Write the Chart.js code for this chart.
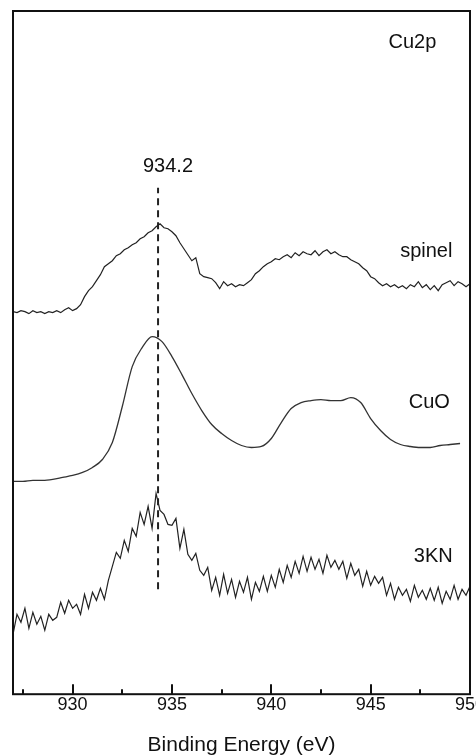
<!DOCTYPE html>
<html>
<head>
<meta charset="utf-8">
<script src="https://cdn.jsdelivr.net/npm/chart.js@4.4.1/dist/chart.umd.min.js"></script>
<style>
  html, body { margin: 0; padding: 0; background: #fff; overflow: hidden; width: 476px; height: 755px; }
  #wrap { position: absolute; left: 0; top: 0; width: 490px; height: 758px; }
</style>
</head>
<body>
<div id="wrap"><canvas id="c" width="490" height="758"></canvas></div>
<script>
// ---- data (binding energy in eV, intensity in arbitrary units, curves stacked with offsets) ----
const energyMin = 927, energyMax = 950;
const tickValues = [927.5, 930, 932.5, 935, 937.5, 940, 942.5, 945, 947.5, 950];
const tickLabels = ['', '930', '', '935', '', '940', '', '945', '', '950'];

// spinel: sampled every 0.2 eV from 927.0
const spinelStart = 927.0, spinelStep = 0.2;
const spinel = [
  383, 382, 384, 383, 381,
  384, 382, 383, 381, 383,
  382, 384, 382, 385, 387,
  384, 386, 390, 398, 404,
  408, 414, 420, 428, 431,
  434, 439, 441, 445, 447,
  450, 452, 456, 458, 462,
  464, 468, 471, 467, 466,
  463, 459, 452, 446, 440,
  434, 437, 421, 418, 417,
  416, 412, 406, 413, 409,
  411, 408, 410, 409, 412,
  415, 421, 424, 428, 431,
  433, 436, 435, 438, 440,
  437, 442, 439, 443, 441,
  440, 444, 439, 443, 445,
  441, 443, 440, 438, 438,
  435, 433, 431, 427, 424,
  418, 416, 412, 409, 411,
  408, 410, 407, 409, 406,
  410, 408, 413, 407, 410,
  405, 409, 404, 410, 412,
  414, 409, 413, 411, 408,
  411
];

// CuO: sampled every 0.5 eV from 927.0
const cuoStart = 927.0, cuoStep = 0.5;
const cuo = [
  213, 213, 214, 214, 215, 217, 219, 222, 227, 235,
  252, 288, 328, 347, 358, 353, 338, 320, 301, 284,
  270, 261, 254, 249, 247, 248, 256, 272, 286, 292,
  294, 295, 294, 294, 297, 292, 276, 264, 255, 250,
  248, 247, 247, 249, 250, 251
];

// 3KN: sampled every 0.2 eV from 927.0
const knStart = 927.0, knStep = 0.2;
const kn3 = [
  60, 80, 72, 86, 66,
  82, 70, 78, 64, 80,
  74, 77, 92, 81, 94,
  86, 90, 80, 100, 86,
  102, 94, 106, 95, 114,
  128, 142, 136, 154, 143,
  166, 158, 182, 170, 188,
  166, 201, 184, 180, 170,
  169, 176, 146, 165, 140,
  134, 141, 124, 119, 127,
  104, 117, 99, 120, 101,
  115, 97, 113, 102, 117,
  95, 112, 103, 118, 103,
  119, 107, 125, 112, 129,
  117, 133, 121, 138, 123,
  137, 125, 135, 121, 139,
  127, 134, 125, 133, 116,
  131, 119, 125, 108, 123,
  109, 118, 111, 117, 99,
  111, 95, 107, 99, 105,
  93, 109, 97, 104, 95,
  106, 94, 107, 91, 103,
  95, 109, 95, 105, 99,
  108
];

// peak marker
const markerEnergy = 934.3;
const markerRange = [105, 507];
const markerLabel = '934.2';

// text labels (data coordinates)
const labelTexts = ['Cu2p', 'spinel', 'CuO', '3KN'];
const labelEnergies = [947.1, 947.8, 947.95, 948.15];
const labelLevels = [652, 443, 292, 138];
const markerLabelPos = [934.8, 528];

// ---- build ----
function toPoints(start, step, arr) {
  return arr.map((v, i) => ({ x: +(start + i * step).toFixed(3), y: v }));
}

const FONT = "'Liberation Sans', Arial, Helvetica, sans-serif";

const decorPlugin = {
  id: 'decor',
  afterDraw(chart) {
    const { ctx, chartArea: a, scales } = chart;
    const xs = scales.x, ys = scales.y;
    ctx.save();
    // frame
    ctx.strokeStyle = '#111';
    ctx.lineWidth = 2;
    ctx.strokeRect(a.left, a.top, a.right - a.left, a.bottom - a.top);
    // inward ticks
    ctx.lineWidth = 2;
    tickValues.forEach((v, i) => {
      const px = Math.round(xs.getPixelForValue(v));
      const len = tickLabels[i] ? 10 : 5;
      ctx.beginPath();
      ctx.moveTo(px, a.bottom);
      ctx.lineTo(px, a.bottom - len);
      ctx.stroke();
    });
    // text labels
    ctx.fillStyle = '#111';
    ctx.font = '20px ' + FONT;
    ctx.textAlign = 'center';
    ctx.textBaseline = 'middle';
    labelTexts.forEach((t, i) => {
      ctx.fillText(t, xs.getPixelForValue(labelEnergies[i]), ys.getPixelForValue(labelLevels[i]));
    });
    ctx.fillText(markerLabel, xs.getPixelForValue(markerLabelPos[0]), ys.getPixelForValue(markerLabelPos[1]));
    ctx.restore();
  }
};

new Chart(document.getElementById('c'), {
  type: 'line',
  data: {
    datasets: [
      { label: 'spinel', data: toPoints(spinelStart, spinelStep, spinel), borderColor: '#222', borderWidth: 1.2, pointRadius: 0, tension: 0, fill: false },
      { label: 'CuO', data: toPoints(cuoStart, cuoStep, cuo), borderColor: '#333', borderWidth: 1.3, pointRadius: 0, cubicInterpolationMode: 'monotone', fill: false },
      { label: '3KN', data: toPoints(knStart, knStep, kn3), borderColor: '#222', borderWidth: 1.2, pointRadius: 0, tension: 0, fill: false },
      { label: 'marker', data: [{ x: markerEnergy, y: markerRange[0] }, { x: markerEnergy, y: markerRange[1] }], borderColor: '#222', borderWidth: 2, borderDash: [7, 5], pointRadius: 0, fill: false }
    ]
  },
  options: {
    responsive: false,
    animation: false,
    devicePixelRatio: 1,
    layout: { padding: { left: 13, top: 11, right: 20, bottom: 0 } },
    plugins: { legend: { display: false }, tooltip: { enabled: false } },
    scales: {
      x: {
        type: 'linear',
        min: energyMin,
        max: energyMax,
        afterBuildTicks: (axis) => { axis.ticks = tickValues.map(v => ({ value: v })); },
        grid: { display: false, drawTicks: false },
        border: { display: false },
        ticks: {
          autoSkip: false,
          maxRotation: 0,
          padding: 0,
          color: '#111',
          font: { family: FONT, size: 18 },
          callback: (v, i) => tickLabels[i]
        },
        title: {
          display: true,
          text: 'Binding Energy (eV)',
          color: '#111',
          font: { family: FONT, size: 21 },
          padding: { top: 17, bottom: 0 }
        }
      },
      y: {
        type: 'linear',
        display: false,
        min: 0,
        max: 684
      }
    }
  },
  plugins: [decorPlugin]
});
</script>
</body>
</html>
